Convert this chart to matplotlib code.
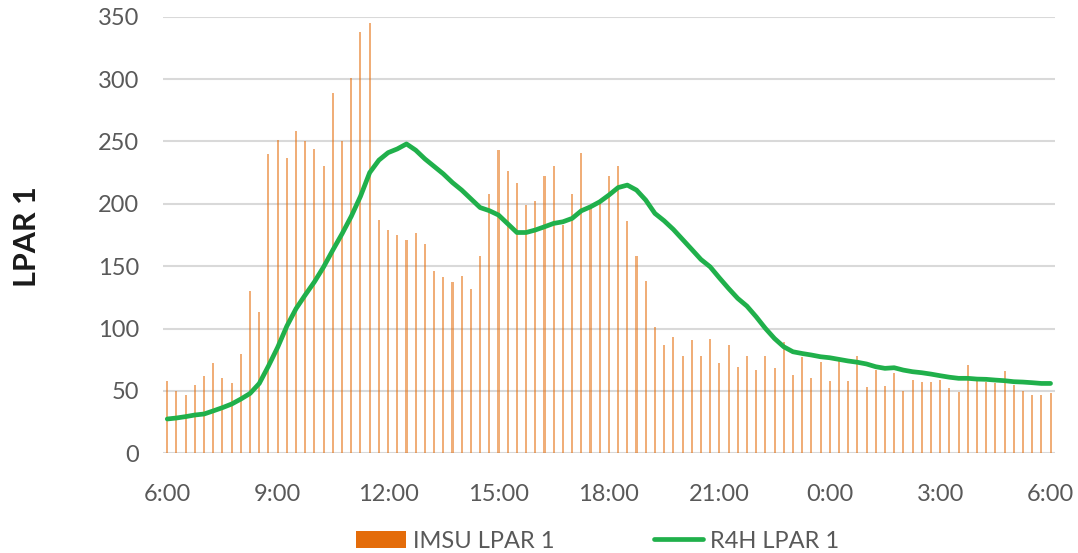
import matplotlib.pyplot as plt
import numpy as np

# 15 minute samples from 6:00 to 6:00 next day (97 points)
imsu_lpar1 = [58, 50, 47, 55, 62, 72, 60, 56, 80, 130,
              113, 240, 251, 237, 258, 250, 244, 230, 289, 250,
              301, 338, 345, 187, 179, 175, 171, 177, 168, 146,
              141, 137, 142, 132, 158, 208, 243, 226, 217, 199,
              202, 222, 230, 183, 208, 241, 198, 201, 222, 230,
              186, 158, 138, 101, 87, 93, 78, 91, 78, 92,
              72, 87, 69, 78, 67, 78, 68, 89, 63, 77,
              60, 73, 58, 75, 58, 78, 53, 67, 54, 64,
              50, 59, 57, 57, 59, 52, 49, 71, 59, 57,
              56, 66, 55, 50, 47, 47, 48]

r4h_lpar1 = [27.5, 28.3, 29.4, 30.7, 31.5, 34, 36.6, 39.5, 43.5, 48,
             56, 70, 85, 102, 116, 127, 137.5, 149.5, 163, 176,
             190, 206, 225, 235, 241, 244, 248, 243, 236, 230,
             224, 217, 211, 204, 197, 194.5, 191, 184, 177, 177,
             179, 181.6, 184.3, 185.6, 188.3, 194.4, 197.6, 201.6, 207, 213,
             215, 211, 203, 192.3, 186.4, 179.5, 171.5, 163.5, 155.4, 149.5,
             140.7, 132.2, 124.2, 118, 109.5, 100.2, 92, 85.4, 81.4, 80,
             78.8, 77.4, 76.6, 75.3, 74, 73, 71.6, 69.4, 68.1, 68.6,
             66.7, 65.4, 64.6, 63.5, 62.2, 61, 60.1, 60.1, 59.5, 59.3,
             58.7, 58.2, 57.4, 57.1, 56.6, 56, 56]

hour_labels = ["6:00", "9:00", "12:00", "15:00", "18:00",
               "21:00", "0:00", "3:00", "6:00"]
y_ticks = [0, 50, 100, 150, 200, 250, 300, 350]

plt.rcParams['font.family'] = ['Lato', 'DejaVu Sans']

fig = plt.figure(figsize=(10.78, 5.53), dpi=100)
ax = fig.add_axes([0.1509, 0.1803, 0.8279, 0.7895])

x = np.arange(len(imsu_lpar1))
bars = ax.bar(x, imsu_lpar1, width=0.22, color='#E46C0A', alpha=0.55,
              linewidth=0, zorder=2, label='IMSU LPAR 1')
line, = ax.plot(x, r4h_lpar1, color='#20B04B', linewidth=3.4, zorder=3,
                solid_capstyle='round', label='R4H LPAR 1')

ax.set_xlim(-0.5, len(x) - 0.5)
ax.set_ylim(0, 350)
ax.set_yticks(y_ticks)
ax.set_xticks(np.arange(0, len(x), 12))
ax.set_xticklabels(hour_labels)

ax.grid(axis='y', color='#D9D9D9', linewidth=1.5, zorder=0)
ax.set_axisbelow(True)
for s in ax.spines.values():
    s.set_visible(False)
ax.tick_params(axis='both', length=0, labelsize=17, colors='#595959')
ax.tick_params(axis='x', pad=22)
ax.tick_params(axis='y', pad=17)

fig.text(27 / 1078, 0.572, 'LPAR 1', rotation=90, fontsize=22,
         fontweight='bold', color='#1a1a1a', ha='center', va='center')

leg = ax.legend([bars, line], ['IMSU LPAR 1', 'R4H LPAR 1'],
                loc='center', bbox_to_anchor=(598 / 1078, 1 - 541 / 553),
                bbox_transform=fig.transFigure, ncol=2, frameon=False,
                fontsize=17, handlelength=2.1, handletextpad=0.3,
                columnspacing=4.2, labelcolor='#595959')
for h in leg.legend_handles:
    h.set_alpha(1)

fig.savefig('out.png', dpi=100)
